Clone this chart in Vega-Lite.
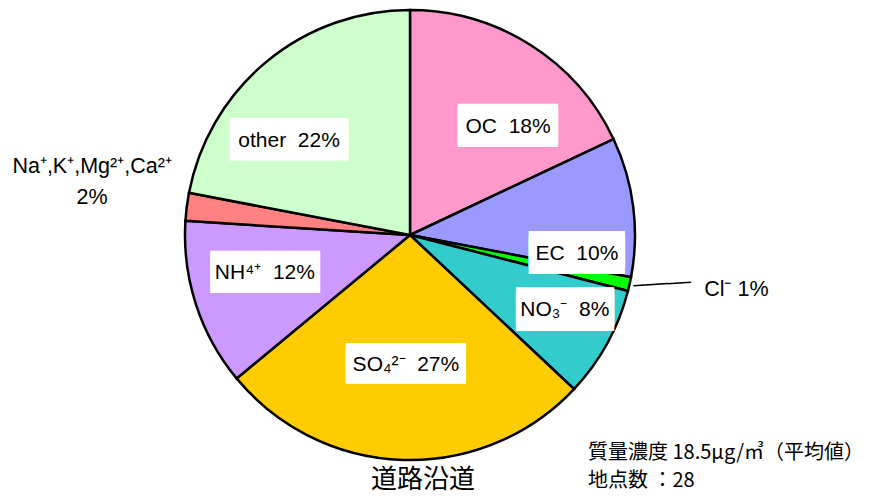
{
  "$schema": "https://vega.github.io/schema/vega-lite/v6.json",
  "width": 820,
  "height": 470,
  "autosize": {"type": "none"},
  "padding": {"left": 0, "top": 0, "right": 55, "bottom": 29},
  "background": "white",
  "config": {"view": {"stroke": null}},
  "layer": [
    {
      "data": {"values": [
        {"rank": 1, "name": "OC", "pct": 18, "label": "OC\u00a0\u00a018%"},
        {"rank": 2, "name": "EC", "pct": 10, "label": "EC\u00a0\u00a010%"},
        {"rank": 3, "name": "Cl-", "pct": 1, "label": "Cl⁻\u00a01%"},
        {"rank": 4, "name": "NO3-", "pct": 8, "label": "NO₃⁻\u00a0\u00a08%"},
        {"rank": 5, "name": "SO42-", "pct": 27, "label": "SO₄²⁻\u00a0\u00a027%"},
        {"rank": 6, "name": "NH4+", "pct": 12, "label": "NH⁴⁺\u00a0\u00a012%"},
        {"rank": 7, "name": "Na+,K+,Mg2+,Ca2+", "pct": 2, "label": ["Na⁺,K⁺,Mg²⁺,Ca²⁺", "2%"]},
        {"rank": 8, "name": "other", "pct": 22, "label": "other\u00a0\u00a022%"}
      ]},
      "encoding": {
        "theta": {"field": "pct", "type": "quantitative", "stack": true},
        "order": {"field": "rank", "type": "quantitative"}
      },
      "layer": [
        {
          "mark": {"type": "arc", "outerRadius": 225, "stroke": "black", "strokeWidth": 2.5},
          "encoding": {
            "color": {"field": "name", "type": "nominal", "legend": null,
              "scale": {"domain": ["OC", "EC", "Cl-", "NO3-", "SO42-", "NH4+", "Na+,K+,Mg2+,Ca2+", "other"],
                        "range": ["#FF99CC", "#9999FF", "#00FF00", "#33CCCC", "#FFCC00", "#CC99FF", "#FF8080", "#CCFFCC"]}}
          }
        },
        {
          "mark": {"type": "text", "radius": 146, "thetaOffset": 0.171, "font": "DejaVu Sans", "fontSize": 32.4, "lineHeight": 4.8, "dy": -2.4, "fill": "white"},
          "encoding": {"text": {"condition": {"test": "datum.name === 'OC'", "value": ["████", "████"]}, "value": ""}}
        },
        {
          "mark": {"type": "text", "radius": 146, "thetaOffset": 0.171, "font": "Liberation Sans", "fontSize": 21, "fill": "black"},
          "encoding": {"text": {"condition": {"test": "datum.name === 'OC'", "field": "label"}, "value": ""}}
        },
        {
          "mark": {"type": "text", "radius": 168, "thetaOffset": 0.239, "font": "DejaVu Sans", "fontSize": 31.1, "lineHeight": 5.2, "dy": -2.6, "fill": "white"},
          "encoding": {"text": {"condition": {"test": "datum.name === 'EC'", "value": ["████", "████"]}, "value": ""}}
        },
        {
          "mark": {"type": "text", "radius": 168, "thetaOffset": 0.239, "font": "Liberation Sans", "fontSize": 21, "fill": "black"},
          "encoding": {"text": {"condition": {"test": "datum.name === 'EC'", "field": "label"}, "value": ""}}
        },
        {
          "mark": {"type": "text", "radius": 172, "thetaOffset": -0.052, "font": "DejaVu Sans", "fontSize": 31.7, "lineHeight": 5.5, "dy": -2.7, "fill": "white"},
          "encoding": {"text": {"condition": {"test": "datum.name === 'NO3-'", "value": ["████", "████"]}, "value": ""}}
        },
        {
          "mark": {"type": "text", "radius": 172, "thetaOffset": -0.052, "font": "Liberation Sans", "fontSize": 21, "fill": "black"},
          "encoding": {"text": {"condition": {"test": "datum.name === 'NO3-'", "field": "label"}, "value": ""}}
        },
        {
          "mark": {"type": "text", "radius": 130, "thetaOffset": 0, "font": "DejaVu Sans", "fontSize": 31, "lineHeight": 4.3, "dy": -2.1, "fill": "white"},
          "encoding": {"text": {"condition": {"test": "datum.name === 'SO42-'", "value": ["█████", "█████"]}, "value": ""}}
        },
        {
          "mark": {"type": "text", "radius": 130, "thetaOffset": 0, "font": "Liberation Sans", "fontSize": 21, "fill": "black"},
          "encoding": {"text": {"condition": {"test": "datum.name === 'SO42-'", "field": "label"}, "value": ""}}
        },
        {
          "mark": {"type": "text", "radius": 150, "thetaOffset": 0.058, "font": "DejaVu Sans", "fontSize": 35.5, "fill": "white"},
          "encoding": {"text": {"condition": {"test": "datum.name === 'NH4+'", "value": "████"}, "value": ""}}
        },
        {
          "mark": {"type": "text", "radius": 150, "thetaOffset": 0.058, "font": "Liberation Sans", "fontSize": 21, "fill": "black"},
          "encoding": {"text": {"condition": {"test": "datum.name === 'NH4+'", "field": "label"}, "value": ""}}
        },
        {
          "mark": {"type": "text", "radius": 153, "thetaOffset": -0.22, "font": "DejaVu Sans", "fontSize": 30.7, "lineHeight": 5.6, "dy": -2.8, "fill": "white"},
          "encoding": {"text": {"condition": {"test": "datum.name === 'other'", "value": ["█████", "█████"]}, "value": ""}}
        },
        {
          "mark": {"type": "text", "radius": 153, "thetaOffset": -0.22, "font": "Liberation Sans", "fontSize": 21, "fill": "black"},
          "encoding": {"text": {"condition": {"test": "datum.name === 'other'", "field": "label"}, "value": ""}}
        },
        {
          "mark": {"type": "text", "radius": 257, "thetaOffset": -0.026, "angle": -3.3, "font": "DejaVu Sans", "fontSize": 19, "fill": "black"},
          "encoding": {"text": {"condition": {"test": "datum.name === 'Cl-'", "value": "─────"}, "value": ""}}
        },
        {
          "mark": {"type": "text", "radius": 331, "thetaOffset": -0.052, "font": "Liberation Sans", "fontSize": 21.5, "fill": "black"},
          "encoding": {"text": {"condition": {"test": "datum.name === 'Cl-'", "field": "label"}, "value": ""}}
        },
        {
          "mark": {"type": "text", "radius": 325, "thetaOffset": 0.084, "font": "Liberation Sans", "fontSize": 21.5, "lineHeight": 31, "fill": "black"},
          "encoding": {"text": {"condition": {"test": "datum.name === 'Na+,K+,Mg2+,Ca2+'", "field": "label"}, "value": ""}}
        }
      ]
    },
    {
      "data": {"values": [{"caption": "道路沿道"}]},
      "mark": {"type": "text", "align": "center", "baseline": "middle", "font": "Noto Sans CJK JP", "fontSize": 26, "x": 423, "y": 480, "fill": "black"},
      "encoding": {"text": {"field": "caption", "type": "nominal"}}
    },
    {
      "data": {"values": [{"note": ["質量濃度 18.5μg/㎥（平均値）", "地点数 ：28"]}]},
      "mark": {"type": "text", "align": "left", "baseline": "middle", "font": "Noto Sans CJK JP", "fontSize": 20, "lineHeight": 28, "x": 588, "y": 453, "fill": "black"},
      "encoding": {"text": {"field": "note", "type": "nominal"}}
    }
  ]
}
